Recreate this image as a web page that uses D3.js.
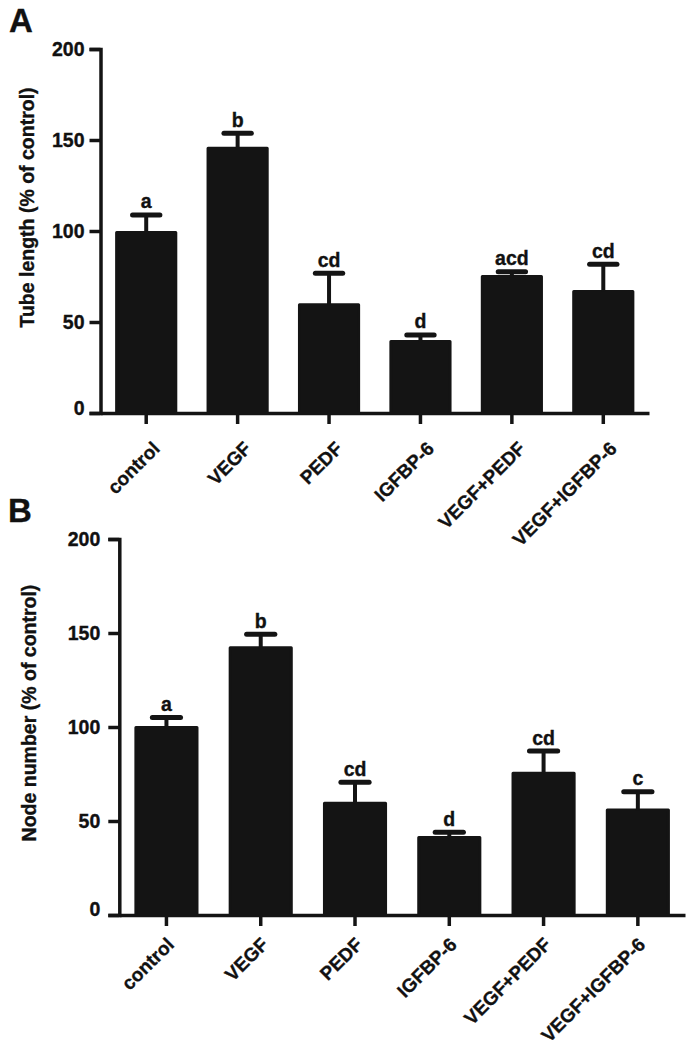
<!DOCTYPE html>
<html>
<head>
<meta charset="utf-8">
<script src="https://cdnjs.cloudflare.com/ajax/libs/d3/7.8.5/d3.min.js"></script>
<style>
  html, body { margin: 0; padding: 0; background: #fff; }
  svg { display: block; }
  text { font-family: "Liberation Sans", Arial, Helvetica, sans-serif; font-weight: bold; fill: #111; stroke: #111; stroke-width: 0.35px; }
</style>
</head>
<body>
<svg id="chart" width="694" height="1050"></svg>
<script>
// ---- data ----
const categories = ["control", "VEGF", "PEDF", "IGFBP-6", "VEGF+PEDF", "VEGF+IGFBP-6"];
const yTicks = [0, 50, 100, 150, 200];

const tubeMean    = [100, 146.3, 60.3, 40.1, 75.8, 67.6];
const tubeErr     = [8.8, 7.4, 16.5, 2.8, 1.8, 14.1];
const tubeLetters = ["a", "b", "cd", "d", "acd", "cd"];

const nodeMean    = [100.5, 143, 60.3, 42, 76.2, 56.7];
const nodeErr     = [4.6, 6.3, 10.3, 2.0, 11.0, 8.9];
const nodeLetters = ["a", "b", "cd", "d", "cd", "c"];

// ---- drawing ----
const svg = d3.select("#chart");
const INK = "#141414";
const FONT = 19.5;

function panel(cfg) {
  const g = svg.append("g");
  const data = categories.map((c, i) => ({ c, m: cfg.mean[i], e: cfg.err[i], l: cfg.letters[i] }));

  const x = d3.scaleBand().domain(categories)
    .range([cfg.axisX, cfg.xEnd]).paddingInner(0.32).paddingOuter(0.16);
  const y = d3.scaleLinear().domain([0, 200]).range([cfg.y0, cfg.yTop]);
  const bw = x.bandwidth();

  // bars
  g.selectAll("rect.bar").data(data).join("rect")
    .attr("class", "bar")
    .attr("x", d => x(d.c) + 1.5)
    .attr("width", bw - 3)
    .attr("y", d => y(d.m) + 1.5)
    .attr("height", d => cfg.y0 - y(d.m) - 1.5)
    .attr("fill", INK).attr("stroke", INK)
    .attr("stroke-width", 3).attr("stroke-linejoin", "round");

  // error bars
  g.selectAll("line.stem").data(data).join("line")
    .attr("x1", d => x(d.c) + bw / 2).attr("x2", d => x(d.c) + bw / 2)
    .attr("y1", d => y(d.m) + 2).attr("y2", d => y(d.m + d.e))
    .attr("stroke", INK).attr("stroke-width", 4);
  g.selectAll("line.cap").data(data).join("line")
    .attr("x1", d => x(d.c) + bw / 2 - bw * 0.22).attr("x2", d => x(d.c) + bw / 2 + bw * 0.22)
    .attr("y1", d => y(d.m + d.e)).attr("y2", d => y(d.m + d.e))
    .attr("stroke", INK).attr("stroke-width", 5).attr("stroke-linecap", "round");

  // significance letters
  g.selectAll("text.sig").data(data).join("text")
    .attr("x", d => x(d.c) + bw / 2)
    .attr("y", d => y(d.m + d.e) - 6.5)
    .attr("text-anchor", "middle")
    .style("font-size", FONT + "px")
    .text(d => d.l);

  // y axis
  const ya = g.append("g").attr("transform", `translate(${cfg.axisX},0)`)
    .call(d3.axisLeft(y).tickValues(yTicks).tickSize(11).tickPadding(cfg.tickPad).tickFormat(d3.format("d")));
  ya.selectAll("path, line").attr("stroke", INK).attr("stroke-width", 3.5);
  ya.selectAll("text").style("font-size", FONT + "px").attr("fill", "#111")
    .attr("dy", d => d === 0 ? cfg.zeroDy : "0.32em");

  // x axis
  const xa = g.append("g").attr("transform", `translate(0,${cfg.y0})`)
    .call(d3.axisBottom(x).tickSize(11).tickSizeOuter(0));
  xa.select("path.domain").attr("stroke", INK).attr("stroke-width", 3.5);
  xa.selectAll("line").attr("stroke", INK).attr("stroke-width", 3.5);
  xa.selectAll("text")
    .style("font-size", "19px").attr("fill", "#111")
    .attr("text-anchor", "end")
    .attr("y", 0).attr("dy", "0.35em")
    .attr("transform", `translate(${cfg.lab[0]},${cfg.lab[1]}) rotate(-45)`);

  // y title
  g.append("text")
    .attr("transform", `translate(${cfg.titleX},${cfg.titleY}) rotate(-90)`)
    .attr("text-anchor", "middle")
    .style("font-size", FONT + "px")
    .text(cfg.title);

  // panel letter
  g.append("text").attr("x", cfg.letterPos[0]).attr("y", cfg.letterPos[1])
    .style("font-size", "33px").text(cfg.panelLetter);
}

panel({
  mean: tubeMean, err: tubeErr, letters: tubeLetters,
  axisX: 100.5, xEnd: 649, y0: 413, yTop: 49,
  tickPad: 5, lab: [10, 32], zeroDy: "0.1em",
  title: "Tube length (% of control)", titleX: 33.5, titleY: 207.5,
  panelLetter: "A", letterPos: [9, 32]
});

panel({
  mean: nodeMean, err: nodeErr, letters: nodeLetters,
  axisX: 119.3, xEnd: 685, y0: 915, yTop: 539,
  tickPad: 8, lab: [4, 26], zeroDy: "0.03em",
  title: "Node number (% of control)", titleX: 36, titleY: 713,
  panelLetter: "B", letterPos: [8, 522]
});
</script>
</body>
</html>
